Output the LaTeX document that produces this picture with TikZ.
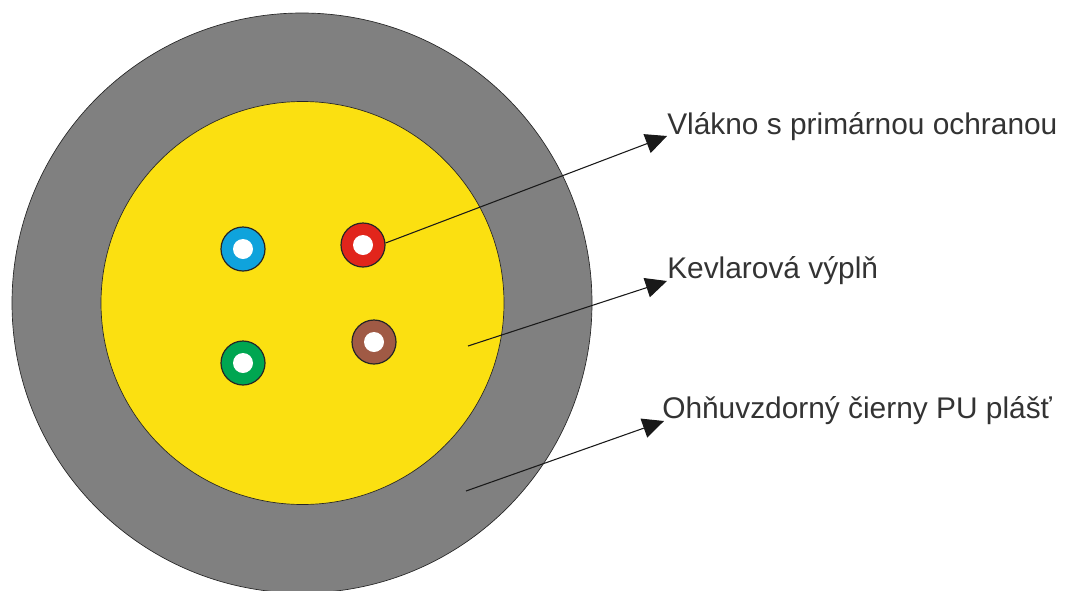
\documentclass[tikz,border=0pt]{standalone}
\usepackage{fontspec}
\setmainfont{Liberation Sans}
\usetikzlibrary{arrows.meta}
\definecolor{jacket}{HTML}{808080}
\definecolor{kevlar}{HTML}{FBE011}
\definecolor{fblue}{HTML}{0FA3DC}
\definecolor{fred}{HTML}{E1251B}
\definecolor{fgreen}{HTML}{00A651}
\definecolor{fbrown}{HTML}{A05A45}
\definecolor{labeltext}{HTML}{333333}
\tikzset{
  disc/.style={circle,draw=black!85,line width=0.5pt,inner sep=0pt,minimum size=#1*0.75pt},
  fibre/.style={circle,draw=black!85,line width=0.9pt,fill=#1,inner sep=0pt,minimum size=33pt},
  core/.style={circle,fill=white,inner sep=0pt,minimum size=15pt},
  lbl/.style={anchor=base west,inner sep=0pt,text=labeltext,font=\fontsize{22.4}{26}\selectfont},
  lead/.style={draw=black!90,line width=0.8pt,-{Triangle[length=16pt,width=15pt]}}
}
\begin{document}
\begin{tikzpicture}[x=0.75pt,y=-0.75pt]
\useasboundingbox (0,0) rectangle (1067,590);
\clip (0,0) rectangle (1067,590);
\node[disc=580,fill=jacket] (outer) at (302,303) {};
\node[disc=403,fill=kevlar] (inner) at (302.5,303) {};
\node[fibre=fblue] (blue) at (243,249) {};
\node[fibre=fred] (red) at (363,245) {};
\node[fibre=fgreen] (green) at (243,363) {};
\node[fibre=fbrown] (brown) at (374,342) {};
\node[core] (cblue) at (243,249) {};
\node[core] (cred) at (363,245) {};
\node[core] (cgreen) at (243,363) {};
\node[core] (cbrown) at (374,342) {};
\node[lbl] (l1) at (667,134) {Vlákno s primárnou ochranou};
\node[lbl] (l2) at (667,278) {Kevlarová výplň};
\node[lbl] (l3) at (662,418) {Ohňuvzdorný čierny PU plášť};
\coordinate (k) at (468,346);
\coordinate (p) at (466,491);
\coordinate (t1) at (667,136);
\coordinate (t2) at (667,281);
\coordinate (t3) at (664,421);
\draw[lead] (red.5) -- (t1);
\draw[lead] (k) -- (t2);
\draw[lead] (p) -- (t3);
\end{tikzpicture}
\end{document}
